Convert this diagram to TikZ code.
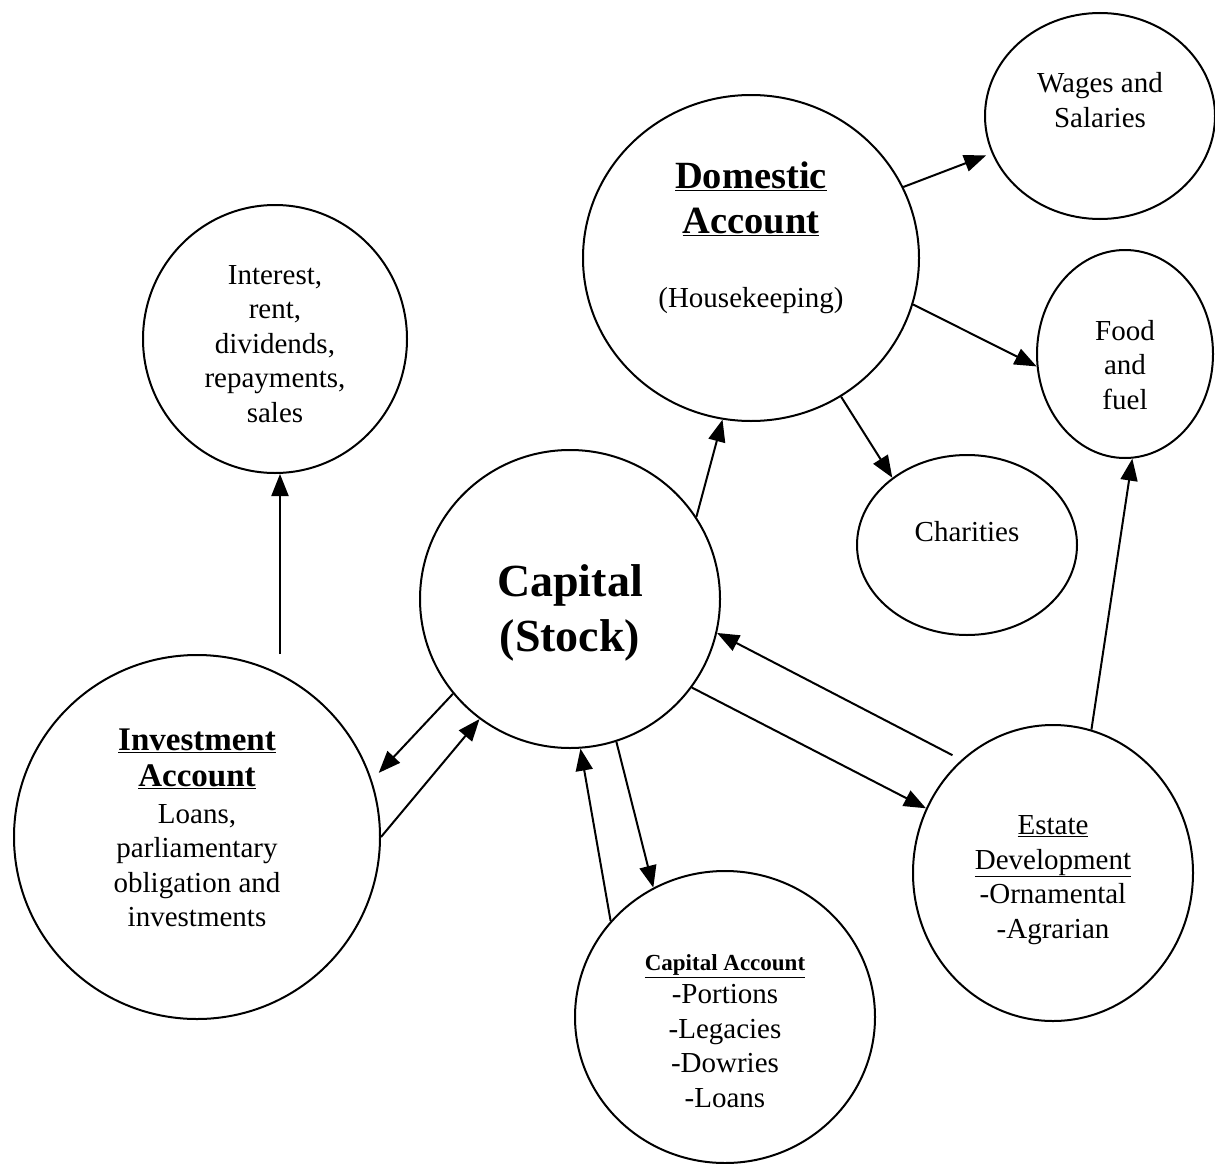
\documentclass[tikz,border=0pt]{standalone}
\usepackage{fontspec}
\setmainfont{Liberation Serif}
\usetikzlibrary{shapes.geometric}
\usetikzlibrary{arrows.meta}

\newcommand{\bodysize}{\fontsize{29}{34.5}\selectfont}
\newcommand{\headsize}{\fontsize{38.5}{45}\selectfont\bfseries}

\begin{document}
\begin{tikzpicture}[x=1pt, y=-1pt, line width=2pt, >={Triangle[length=22pt, width=17pt]},
    acct/.style={draw, ellipse, inner sep=0pt},
    txt/.style={align=center, font=\bodysize}]
        \useasboundingbox (0,0) rectangle (1215,1164);

        % Accounts
        \node (cap) at (570,599) [acct, minimum width=300pt, minimum height=298pt] {};
        \node (dom) at (751,258) [acct, minimum width=336pt, minimum height=326pt] {};
        \node (wag) at (1100,116) [acct, minimum width=230pt, minimum height=206pt] {};
        \node (food) at (1125,354) [acct, minimum width=176pt, minimum height=208pt] {};
        \node (char) at (967,545) [acct, minimum width=220pt, minimum height=180pt] {};
        \node (int) at (275,339) [acct, minimum width=264pt, minimum height=268pt] {};
        \node (inv) at (197,837) [acct, minimum width=366pt, minimum height=364pt] {};
        \node (est) at (1053,873) [acct, minimum width=280pt, minimum height=296pt] {};
        \node (cacc) at (725,1017) [acct, minimum width=300pt, minimum height=292pt] {};

        % Texts
        \node (captxt) at (570,613) [txt, font=\fontsize{46}{55}\selectfont\bfseries] {Capital\\(Stock)};
        \node (domtxt) at (751,238) [txt] {{\headsize\underline{Domestic}}\\[10.5pt]{\headsize\underline{Account}}\\[40pt](Housekeeping)};
        \node (wagtxt) at (1100,100) [txt] {Wages and\\Salaries};
        \node (foodtxt) at (1125,365) [txt] {Food\\and\\fuel};
        \node (chartxt) at (967,532) [txt] {Charities};
        \node (inttxt) at (275,344) [txt] {Interest,\\rent,\\dividends,\\repayments,\\sales};
        \node (invtxt) at (197,828) [txt] {{\fontsize{33}{38}\selectfont\bfseries\underline{Investment}}\\[1.5pt]{\fontsize{33}{38}\selectfont\bfseries\underline{Account}}\\[2pt]Loans,\\parliamentary\\obligation and\\investments};
        \node (esttxt) at (1053,880) [txt] {\underline{Estate}\\\underline{Development}\\-Ornamental\\-Agrarian};
        \node (cacctxt) at (725,1031) [txt] {{\fontsize{23}{26}\selectfont\bfseries\underline{Capital Account}}\\[-1.5pt]-Portions\\-Legacies\\-Dowries\\-Loans};

        % Arrows from Capital
        \draw[->] (cap.33) -- (dom.260);
        \draw[->, shorten >=10pt] (cap.219) -- (inv.18);
        \draw[->] (cap.324) -- (est.153);
        \draw[->] (cap.288) -- (cacc.119);

        % Arrows into Capital
        \draw[->] (inv.0) -- (cap.233);
        \draw[->, shorten <=10pt] (est.129) -- (cap.347);
        \draw[->] (cacc.140) -- (cap.274);

        % Arrows from Domestic
        \draw[->, shorten >=6pt] (dom.25) -- (wag.199);
        \draw[->] (dom.344) -- (food.188);
        \draw[->] (dom.303) -- (char.138);

        % Other arrows
        \draw[->] (est.75) -- (food.274);
        \draw[->] ([xshift=5pt]int.south |- inv.north) -- ([xshift=5pt]int.south);

\end{tikzpicture}
\end{document}
